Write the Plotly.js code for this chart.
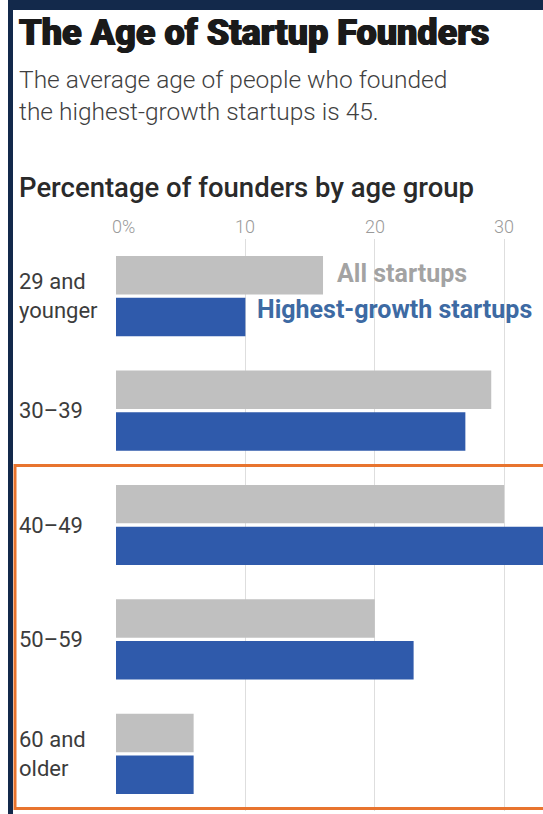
<!DOCTYPE html>
<html>
<head>
<meta charset="utf-8">
<script src="https://cdn.plot.ly/plotly-3.0.1.min.js"></script>
<style>html,body{margin:0;padding:0;background:#fff;}#chart{width:543px;height:814px;}</style>
</head>
<body>
<div id="chart"></div>
<script>
// ---- data ----
const ageGroups = ["29 and<br>younger", "30–39", "40–49", "50–59", "60 and<br>older"];
const allStartups = [16, 29, 30, 20, 6];
const highestGrowth = [10, 27, 33, 23, 6];
const tickValues = [0, 10, 20, 30];
const tickLabels = ["0%", "10", "20", "30"];
const seriesNames = ["All startups", "Highest-growth startups"];

// ---- layout helpers ----
const W = 543, H = 814, L = 116, R = 0, T = 239, B = 3;
const pw = W - L - R, ph = H - T - B;
const px = x => (x - L) / pw;
const py = y => (H - B - y) / ph;
const FONT = "Roboto, 'Open Sans', sans-serif";

const traces = [
  {type: "bar", orientation: "h", name: seriesNames[0], y: ageGroups, x: allStartups,
   marker: {color: "#c0c0c0"}, hoverinfo: "x+y"},
  {type: "bar", orientation: "h", name: seriesNames[1], y: ageGroups, x: highestGrowth,
   marker: {color: "#2f5aab"}, hoverinfo: "x+y"}
];

const annotations = [];
// titles
annotations.push({xref: "paper", yref: "paper", x: px(17), y: py(33), xanchor: "left", yanchor: "middle",
  text: "The Age of Startup Founders", showarrow: false,
  font: {family: FONT, size: 36, weight: 900, color: "#1a1a1a",
         shadow: "0.7px 0 0 #1a1a1a, -0.7px 0 0 #1a1a1a"}});
annotations.push({xref: "paper", yref: "paper", x: px(17), y: py(95), xanchor: "left", yanchor: "middle",
  text: "The average age of people who founded<br>the highest-growth startups is 45.", align: "left", showarrow: false,
  font: {family: FONT, size: 24.5, weight: 300, color: "#3f3f3f"}});
annotations.push({xref: "paper", yref: "paper", x: px(17), y: py(187), xanchor: "left", yanchor: "middle",
  text: "Percentage of founders by age group", showarrow: false,
  font: {family: FONT, size: 27.5, weight: 500, color: "#2a2a2a"}});
// x tick labels
tickValues.forEach((v, i) => {
  annotations.push({xref: "x", yref: "paper", x: v, y: py(226), xanchor: i === 0 ? "left" : "center", yanchor: "middle",
    xshift: i === 0 ? -6 : 0, text: tickLabels[i], showarrow: false,
    font: {family: FONT, size: 18, weight: 300, color: "#9a9a9a"}});
});
// category labels
ageGroups.forEach(g => {
  annotations.push({xref: "paper", yref: "y", x: px(17), y: g, xanchor: "left", yanchor: "middle", align: "left",
    text: g, showarrow: false, font: {family: FONT, size: 22, weight: 400, color: "#3c3c3c"}});
});
// series labels
annotations.push({xref: "paper", yref: "paper", x: px(335), y: py(273), xanchor: "left", yanchor: "middle",
  text: seriesNames[0], showarrow: false, font: {family: FONT, size: 25, weight: 700, color: "#a3a3a3"}});
annotations.push({xref: "paper", yref: "paper", x: px(255), y: py(309), xanchor: "left", yanchor: "middle",
  text: seriesNames[1], showarrow: false, font: {family: FONT, size: 25, weight: 700, color: "#3d6aa3"}});

const shapes = [
  // navy frame
  {type: "rect", xref: "paper", yref: "paper", x0: px(8), x1: px(545), y0: py(10), y1: py(-5),
   fillcolor: "#13294b", line: {width: 0}, layer: "above"},
  {type: "rect", xref: "paper", yref: "paper", x0: px(8), x1: px(13), y0: py(820), y1: py(3),
   fillcolor: "#13294b", line: {width: 0}, layer: "above"},
  // orange highlight box
  {type: "rect", xref: "paper", yref: "paper", x0: px(15), x1: px(548), y0: py(808.5), y1: py(465.5),
   fillcolor: "rgba(0,0,0,0)", line: {color: "#e8742e", width: 3}, layer: "above"}
];

const layout = {
  width: W, height: H,
  margin: {l: L, r: R, t: T, b: B, pad: 0},
  paper_bgcolor: "#ffffff", plot_bgcolor: "#ffffff",
  showlegend: false,
  barmode: "group", bargap: 0.27, bargroupgap: 0.08,
  xaxis: {range: [0, 33.0], tickvals: tickValues, showticklabels: false, showgrid: true,
    gridcolor: "#dedede", gridwidth: 1, zeroline: false, showline: false, ticks: "", fixedrange: true},
  yaxis: {type: "category", autorange: "reversed", showticklabels: false, showgrid: false,
    zeroline: false, showline: false, ticks: "", fixedrange: true},
  annotations: annotations,
  shapes: shapes,
  font: {family: FONT}
};

Plotly.newPlot("chart", traces, layout, {displayModeBar: false, staticPlot: true});
</script>
</body>
</html>
